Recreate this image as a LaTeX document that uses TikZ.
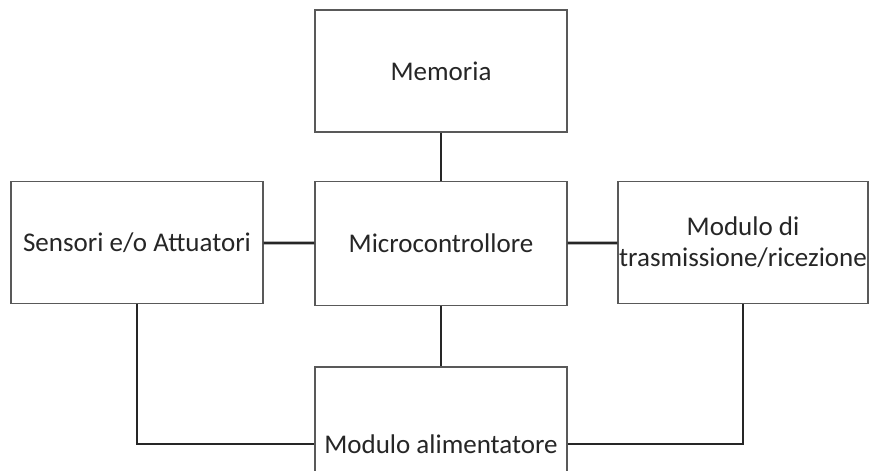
\documentclass[tikz,border=0pt]{standalone}
\usepackage{fontspec}
\setmainfont{Carlito}
\usetikzlibrary{positioning}

\begin{document}
\begin{tikzpicture}
  [x=0.5pt,y=-0.5pt,every node/.style={rectangle,draw=black!65,line width=0.6pt,fill=white,font=\fontsize{13.5}{15.5}\selectfont,text=black!85,inner sep=0pt,minimum width=126pt,minimum height=61pt,align=center},-,line width=1.4pt]
  \useasboundingbox (0,0) rectangle (870,470);
  \clip (0,0) rectangle (870,470);
  \node (mem) at (441,71) {Memoria};
  \node (micro) at (441,243.5) [minimum height=62pt] {Microcontrollore};
  \node (sens) at (137,242.5) {Sensori e/o Attuatori};
  \node (trasm) at (743,242.5) [minimum width=125pt] {Modulo di\\trasmissione/ricezione};
  \node (alim) at (441,444) [minimum height=77pt] {Modulo alimentatore};

\draw[black!85] (mem) -- (micro);
\draw[black!85] (sens) -- (micro);
\draw[black!85] (micro) -- (trasm);
\draw[black!85] (micro) -- (alim);
\draw[black!85] (sens.south) |- (alim.west);
\draw[black!85] (trasm.south) |- (alim.east);
\end{tikzpicture}
\end{document}
